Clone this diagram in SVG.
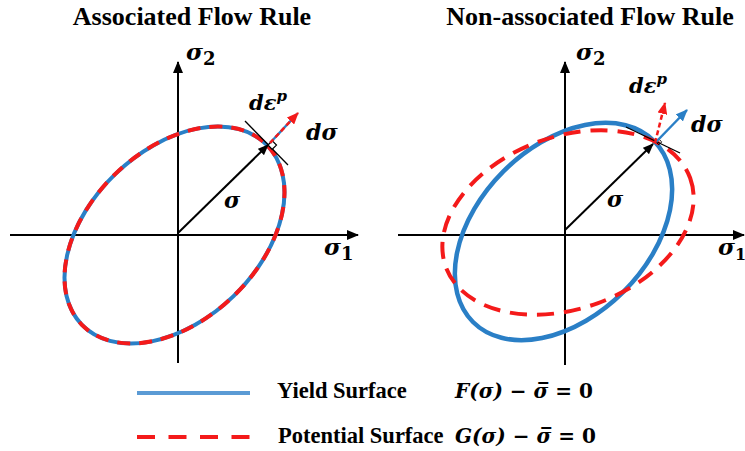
<svg xmlns="http://www.w3.org/2000/svg" width="745" height="451" viewBox="0 0 745 451">
<style>
.title{font-family:"Liberation Serif","Times New Roman",serif;font-weight:bold;font-size:26px;fill:#000}
.leg{font-family:"Liberation Serif","Times New Roman",serif;font-weight:bold;font-size:22.5px;fill:#000}
.m{font-family:"DejaVu Serif","Liberation Serif",serif;font-weight:bold;font-style:italic;fill:#000}
.sub{font-style:normal}
.axis{stroke:#000;stroke-width:2;fill:none}
.blue{stroke:#2a7fc6;fill:none}
.red{stroke:#f41a1a;fill:none}
</style>
<defs>
<marker id="ahK" markerUnits="userSpaceOnUse" markerWidth="12" markerHeight="10" refX="11" refY="5" orient="auto"><path d="M0,0 L12,5 L0,10 Z" fill="#000"/></marker>
<marker id="ahS" markerUnits="userSpaceOnUse" markerWidth="11" markerHeight="9" refX="10" refY="4.5" orient="auto"><path d="M0,0 L11,4.5 L0,9 Z" fill="#000"/></marker>
<marker id="ahR" markerUnits="userSpaceOnUse" markerWidth="12" markerHeight="10" refX="11" refY="5" orient="auto"><path d="M0,0 L12,5 L0,10 Z" fill="#f41a1a"/></marker>
<marker id="ahB" markerUnits="userSpaceOnUse" markerWidth="12" markerHeight="10" refX="11" refY="5" orient="auto"><path d="M0,0 L12,5 L0,10 Z" fill="#2a7fc6"/></marker>
</defs>

<g id="title-left"><text class="title" x="192" y="25" text-anchor="middle">Associated Flow Rule</text></g>
<g id="title-right"><text class="title" x="590" y="25" text-anchor="middle">Non-associated Flow Rule</text></g>

<!-- Left panel -->
<g id="left-axes">
<line class="axis" x1="10" y1="235" x2="358" y2="235" marker-end="url(#ahK)"/>
<line class="axis" x1="178" y1="363" x2="178" y2="62" marker-end="url(#ahK)"/>
<text class="m" x="186" y="60" font-size="23">σ<tspan class="sub" font-size="18" dy="5">2</tspan></text>
<text class="m" x="324" y="255" font-size="23">σ<tspan class="sub" font-size="18" dy="5">1</tspan></text>
</g>
<g id="left-surface">
<ellipse class="blue" stroke-width="4" cx="174.5" cy="235" rx="129" ry="85" transform="rotate(-44 174.5 235)"/>
<ellipse class="red" stroke-width="4" stroke-dasharray="13 9" cx="174.5" cy="235" rx="129" ry="85" transform="rotate(-44 174.5 235)"/>
</g>
<g id="left-vectors">
<line x1="178" y1="233" x2="268" y2="145" stroke="#000" stroke-width="2" marker-end="url(#ahS)"/>
<line x1="245" y1="121" x2="288" y2="165" stroke="#000" stroke-width="1.3"/>
<path d="M268,145 L272.3,140.8 L276.5,145.1 L272.2,149.3 Z" fill="#fff" stroke="#000" stroke-width="1.2"/>
<line x1="270" y1="143" x2="297" y2="114" stroke="#2a7fc6" stroke-width="2.5"/>
<line x1="270" y1="143" x2="298" y2="113" stroke="#f41a1a" stroke-width="2.5" stroke-dasharray="5 3" marker-end="url(#ahR)"/>
<text class="m" x="249" y="110" font-size="21">dε<tspan font-size="15" dy="-9">p</tspan></text>
<text class="m" x="306" y="140" font-size="22">dσ</text>
<text class="m" x="224" y="208" font-size="22">σ</text>
</g>

<!-- Right panel -->
<g id="right-axes">
<line class="axis" x1="398" y1="235" x2="744" y2="235" marker-end="url(#ahK)"/>
<line class="axis" x1="565" y1="365" x2="565" y2="62" marker-end="url(#ahK)"/>
<text class="m" x="576" y="60" font-size="23">σ<tspan class="sub" font-size="18" dy="5">2</tspan></text>
<text class="m" x="718" y="255" font-size="23">σ<tspan class="sub" font-size="16" dy="5">1</tspan></text>
</g>
<g id="right-yield">
<ellipse class="blue" stroke-width="4.5" cx="563.5" cy="231.5" rx="128" ry="85" transform="rotate(-45 563.5 231.5)"/>
</g>
<g id="right-potential">
<ellipse class="red" stroke-width="4" stroke-dasharray="17 10" cx="568" cy="222.5" rx="130" ry="86" transform="rotate(-20 568 222.5)"/>
</g>
<g id="right-vectors">
<line x1="565" y1="230" x2="653" y2="144" stroke="#000" stroke-width="2" marker-end="url(#ahS)"/>
<line x1="626" y1="127" x2="680" y2="153" stroke="#000" stroke-width="1.3"/>
<path d="M656,142 L658.8,139.1 L661.7,141.9 L658.9,144.8 Z" fill="none" stroke="#000" stroke-width="1"/>
<line x1="656" y1="142" x2="687" y2="110" stroke="#2a7fc6" stroke-width="2.5" marker-end="url(#ahB)"/>
<line x1="655" y1="143" x2="665" y2="103" stroke="#f41a1a" stroke-width="2.5" stroke-dasharray="5 3" marker-end="url(#ahR)"/>
<text class="m" x="629" y="93" font-size="21">dε<tspan font-size="15" dy="-9">p</tspan></text>
<text class="m" x="691" y="132" font-size="22">dσ</text>
<text class="m" x="607" y="207" font-size="22">σ</text>
</g>

<!-- Legend -->
<g id="legend-yield">
<line x1="137" y1="393" x2="250" y2="393" stroke="#5b9bd5" stroke-width="4"/>
<text class="leg" x="277" y="398">Yield Surface</text>
<text class="m" x="455" y="398" font-size="20">F(σ) − σ̅ = <tspan class="sub">0</tspan></text>
</g>
<g id="legend-potential">
<line x1="137" y1="437" x2="250" y2="437" stroke="#f41a1a" stroke-width="4" stroke-dasharray="18 13.5"/>
<text class="leg" x="278" y="443">Potential Surface</text>
<text class="m" x="455" y="443" font-size="20">G(σ) − σ̅ = <tspan class="sub">0</tspan></text>
</g>
</svg>
